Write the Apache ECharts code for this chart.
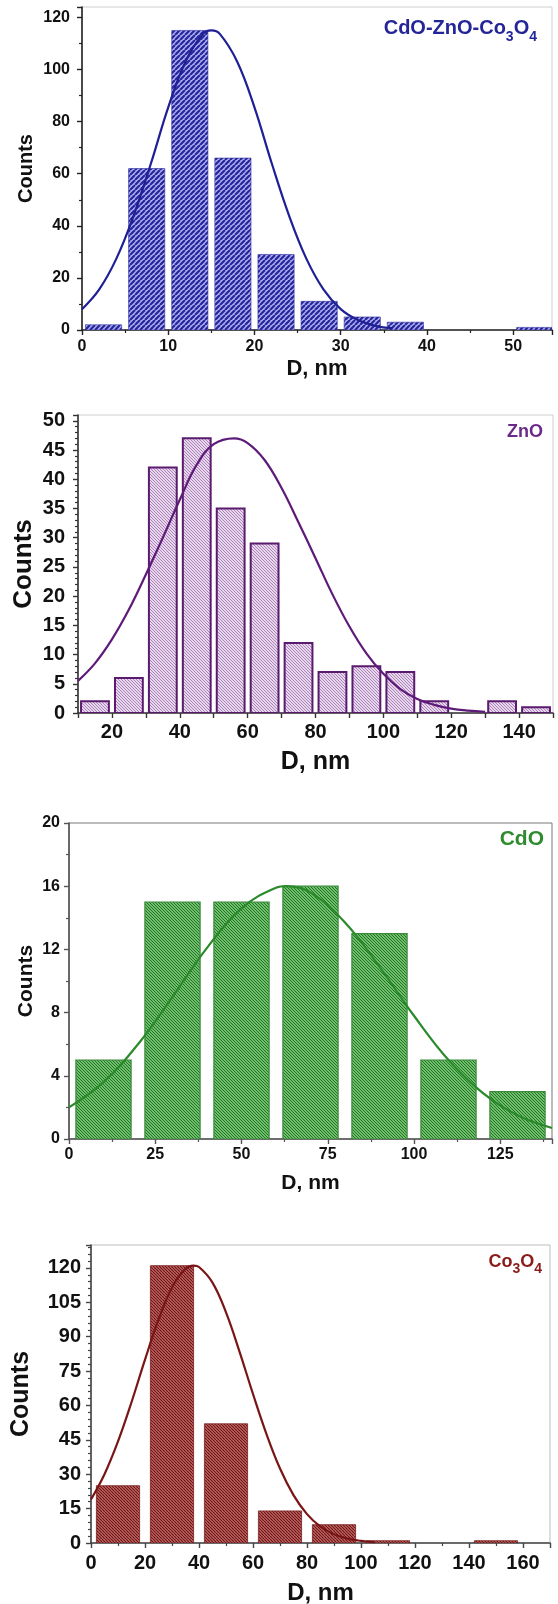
<!DOCTYPE html>
<html><head><meta charset="utf-8">
<script src="https://cdn.jsdelivr.net/npm/echarts@6/dist/echarts.min.js"></script>
<style>html,body{margin:0;padding:0;background:#fff}#c{width:558px;height:1604px}</style>
</head><body><div id="c"></div>
<script>
// ---------- DATA ----------
// Panel 1: CdO-ZnO-Co3O4
const p1Edges = [0, 5, 10, 15, 20, 25, 30, 35, 40, 45, 50, 55];
const p1Counts = [2, 62, 115, 66, 29, 11, 5, 3, 0, 0, 1];
const p1FitX = [0, 2, 4, 6, 8, 10, 12, 14, 15, 16, 18, 20, 22, 24, 26, 28, 30, 32, 34, 36];
const p1FitY = [8, 15.6, 27.5, 44, 64, 85.5, 103, 113.6, 115, 113.6, 103, 85.5, 64, 44, 27.5, 15.6, 8, 3.8, 1.6, 0.6];
const p1XTicks = [0, 10, 20, 30, 40, 50];
const p1YTicks = [0, 20, 40, 60, 80, 100, 120];

// Panel 2: ZnO
const p2Edges = [10, 20, 30, 40, 50, 60, 70, 80, 90, 100, 110, 120, 130, 140, 150];
const p2Counts = [2, 6, 42, 47, 35, 29, 12, 7, 8, 7, 2, 0, 2, 1];
const p2FitX = [10, 15, 20, 25, 30, 35, 40, 45, 50, 56, 60, 65, 70, 75, 80, 85, 90, 95, 100, 105, 110, 115, 120, 125, 130];
const p2FitY = [5.5, 8.5, 12.6, 17.7, 23.7, 30, 36.5, 42.5, 46, 47, 46.2, 43.3, 38.5, 32.6, 26.5, 20.3, 14.8, 10.2, 6.7, 4.1, 2.4, 1.4, 0.75, 0.4, 0.2];
const p2XTicks = [20, 40, 60, 80, 100, 120, 140];
const p2YTicks = [0, 5, 10, 15, 20, 25, 30, 35, 40, 45, 50];

// Panel 3: CdO
const p3Edges = [0, 20, 40, 60, 80, 100, 120, 140];
const p3Counts = [5, 15, 15, 16, 13, 5, 3];
const p3FitX = [0, 10, 20, 30, 40, 50, 60, 63, 70, 80, 90, 100, 110, 120, 130, 140];
const p3FitY = [2.0, 3.6, 6.0, 9.0, 12.1, 14.6, 15.9, 16, 15.6, 13.7, 10.9, 7.8, 5.0, 2.9, 1.5, 0.7];
const p3XTicks = [0, 25, 50, 75, 100, 125];
const p3YTicks = [0, 4, 8, 12, 16, 20];

// Panel 4: Co3O4
const p4Edges = [0, 20, 40, 60, 80, 100, 120, 140, 160];
const p4Counts = [25, 121, 52, 14, 8, 1, 0, 1];
const p4FitX = [0, 5, 10, 15, 20, 25, 30, 35, 38, 40, 45, 50, 55, 60, 65, 70, 75, 80, 85, 90, 95, 100, 105];
const p4FitY = [19, 30, 44.3, 61.4, 80, 97.4, 111.5, 119.6, 121, 120.4, 113.6, 100.6, 83.5, 65, 47.5, 32.5, 20.9, 12.6, 7.1, 3.8, 1.9, 0.9, 0.4];
const p4XTicks = [0, 20, 40, 60, 80, 100, 120, 140, 160];
const p4YTicks = [0, 15, 30, 45, 60, 75, 90, 105, 120];

// ---------- STYLE / LAYOUT ----------
const FF = '"Liberation Sans", Arial, sans-serif';

function hatch(bg, fg, size, lw, dir) {
  const c = document.createElement('canvas');
  c.width = size; c.height = size;
  const g = c.getContext('2d');
  g.fillStyle = bg; g.fillRect(0, 0, size, size);
  g.strokeStyle = fg; g.lineWidth = lw; g.beginPath();
  for (let k = -1; k <= 1; k++) {
    if (dir === '/') { g.moveTo(k * size, size); g.lineTo(k * size + size, 0); }
    else { g.moveTo(k * size, 0); g.lineTo(k * size + size, size); }
  }
  g.stroke();
  return { image: c, repeat: 'repeat' };
}

const panels = [
  { edges: p1Edges, counts: p1Counts, fx: p1FitX, fy: p1FitY, xt: p1XTicks, yt: p1YTicks,
    grid: { left: 82, top: 7, width: 470, height: 323 },
    x: [0, 54.5, 10, 2], y: [0, 124, 20, 2],
    fill: hatch('#aeaef0', '#26269c', 5, 2.2, '/'), stroke: '#3030a0', strokeW: 0.6, gap: 0.08,
    line: '#1f1f96', axis: '#222', frame: '#cfcfcf', tickFont: 16, tickLen: 5,
    xName: 22, xGap: 28, yName: 20, yGap: 46, xMargin: 9, yMargin: 12 },
  { edges: p2Edges, counts: p2Counts, fx: p2FitX, fy: p2FitY, xt: p2XTicks, yt: p2YTicks,
    grid: { left: 78, top: 415, width: 475, height: 298 },
    x: [10, 150, 10, 0], y: [0, 51, 5, 5],
    fill: hatch('#e8d6ee', '#9a72aa', 3, 0.8, '\\'), stroke: '#5a1a6e', strokeW: 2, gap: 0.09,
    line: '#5e1a78', axis: '#333', frame: '#cfcfcf', tickFont: 20, tickLen: 5,
    xName: 25, xGap: 37, yName: 26, yGap: 41, xMargin: 9, yMargin: 13 },
  { edges: p3Edges, counts: p3Counts, fx: p3FitX, fy: p3FitY, xt: p3XTicks, yt: p3YTicks,
    grid: { left: 69, top: 823, width: 483, height: 316 },
    x: [0, 140, 25, 2], y: [0, 20, 4, 2],
    fill: hatch('#6fbf6f', '#237423', 3, 1, '\\'), stroke: '#3a8a3a', strokeW: 1.2, gap: 0.1,
    line: '#2a8a2a', axis: '#555', frame: '#777', tickFont: 16, tickLen: 5,
    xName: 21, xGap: 34, yName: 21, yGap: 32, xMargin: 8, yMargin: 9 },
  { edges: p4Edges, counts: p4Counts, fx: p4FitX, fy: p4FitY, xt: p4XTicks, yt: p4YTicks,
    grid: { left: 91, top: 1245, width: 459, height: 298 },
    x: [0, 170, 20, 2], y: [0, 130, 15, 5],
    fill: hatch('#c47070', '#6e1212', 3, 1.2, '\\'), stroke: '#7a2020', strokeW: 0.8, gap: 0.1,
    line: '#7a1515', axis: '#444', frame: '#bdbdbd', tickFont: 20, tickLen: 5,
    xName: 24, xGap: 38, yName: 25, yGap: 57, xMargin: 10, yMargin: 10 }
];

const grids = [], xAxes = [], yAxes = [], series = [];
panels.forEach((p, i) => {
  grids.push(Object.assign({ show: true, borderColor: p.frame, borderWidth: 1, backgroundColor: 'transparent',
    containLabel: false, outerBoundsMode: 'none' }, p.grid));
  const common = (axisCol) => ({
    axisLine: { show: true, onZero: false, lineStyle: { color: axisCol, width: 1.6 } },
    axisTick: { show: true, inside: false, length: p.tickLen, lineStyle: { color: axisCol, width: 1.4 } },
    splitLine: { show: false },
    nameMoveOverlap: false
  });
  xAxes.push(Object.assign(common(p.axis), {
    type: 'value', gridIndex: i, min: p.x[0], max: p.x[1], interval: p.x[2],
    minorTick: { show: p.x[3] > 0, splitNumber: p.x[3] || 1, length: 3, lineStyle: { color: p.axis, width: 1.2 } },
    axisLabel: { show: true, margin: p.xMargin, color: '#111', fontWeight: 'bold', fontSize: p.tickFont, fontFamily: FF,
      showMaxLabel: true, formatter: v => p.xt.includes(v) ? String(v) : '' },
    name: 'D, nm', nameLocation: 'middle', nameGap: p.xGap,
    nameTextStyle: { color: '#111', fontWeight: 'bold', fontSize: p.xName, fontFamily: FF }
  }));
  yAxes.push(Object.assign(common(p.axis), {
    type: 'value', gridIndex: i, min: p.y[0], max: p.y[1], interval: p.y[2],
    minorTick: { show: true, splitNumber: p.y[3], length: 3, lineStyle: { color: p.axis, width: 1.2 } },
    axisLabel: { show: true, margin: p.yMargin, color: '#111', fontWeight: 'bold', fontSize: p.tickFont, fontFamily: FF,
      formatter: v => p.yt.includes(v) ? String(v) : '' },
    name: 'Counts', nameLocation: 'middle', nameGap: p.yGap,
    nameTextStyle: { color: '#111', fontWeight: 'bold', fontSize: p.yName, fontFamily: FF }
  }));
  const binData = p.counts.map((c, k) => [p.edges[k], p.edges[k + 1], c]);
  series.push({
    type: 'custom', xAxisIndex: i, yAxisIndex: i, data: binData, encode: { x: [0, 1], y: 2 },
    clip: true, z: 2,
    renderItem: (params, api) => {
      const s = api.value(0), e = api.value(1), v = api.value(2);
      if (!v) return null;
      const w = e - s;
      const a = api.coord([s + w * p.gap, v]);
      const b = api.coord([e - w * p.gap, 0]);
      return { type: 'rect', shape: { x: a[0], y: a[1], width: b[0] - a[0], height: b[1] - a[1] },
        style: { fill: p.fill, stroke: p.stroke, lineWidth: p.strokeW } };
    }
  });
  series.push({
    type: 'line', xAxisIndex: i, yAxisIndex: i, data: p.fx.map((x, k) => [x, p.fy[k]]),
    smooth: 0.4, symbol: 'none', z: 5, lineStyle: { color: p.line, width: 2.2 }, clip: true
  });
});

const subTitle = (txt, right, top, color, big, small, drop) => ({
  text: txt, right: right, top: top, padding: 0,
  textStyle: { rich: {
    a: { fontSize: big, fontWeight: 'bold', color: color, fontFamily: FF, verticalAlign: 'top' },
    s: { fontSize: small, fontWeight: 'bold', color: color, fontFamily: FF, verticalAlign: 'top', padding: [drop, 0, 0, 0] }
  } }
});

const titles = [
  subTitle('{a|CdO-ZnO-Co}{s|3}{a|O}{s|4}', 21, 18, '#25259a', 20, 14, 12),
  { text: 'ZnO', right: 15, top: 423, padding: 0, textStyle: { fontSize: 18, fontWeight: 'bold', color: '#6a2a8a', fontFamily: FF } },
  { text: 'CdO', right: 14, top: 829, padding: 0, textStyle: { fontSize: 21, fontWeight: 'bold', color: '#2e8b2e', fontFamily: FF } },
  subTitle('{a|Co}{s|3}{a|O}{s|4}', 16, 1253, '#8b1a1a', 18, 14, 9)
];

const chart = echarts.init(document.getElementById('c'), null, { renderer: 'canvas' });
chart.setOption({
  animation: false,
  backgroundColor: '#fff',
  title: titles,
  grid: grids, xAxis: xAxes, yAxis: yAxes, series: series
});
</script></body></html>
